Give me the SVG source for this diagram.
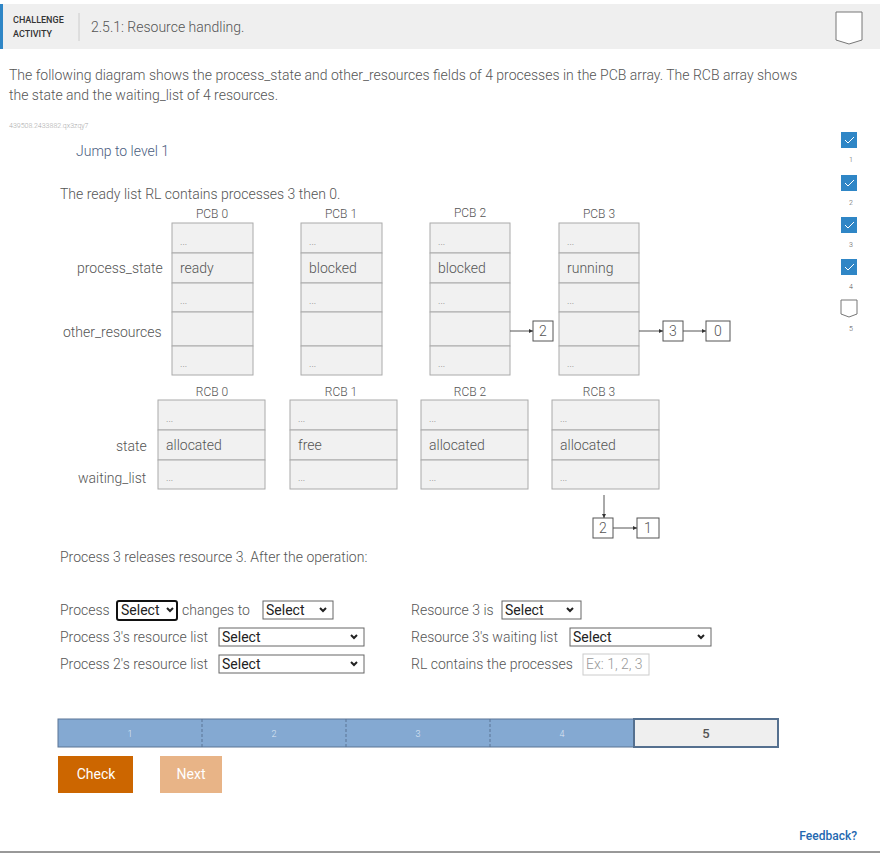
<svg xmlns="http://www.w3.org/2000/svg" width="880" height="854" viewBox="0 0 880 854">
<defs>
<style>
text{font-family:Roboto,"Liberation Sans",sans-serif;font-weight:300;fill:#555}
.c{fill:#f1f1f1;stroke:#aaa;stroke-width:1}
.d{font-size:10px;fill:#888}
.v{font-size:14px}
.l{font-size:14px}
.h{font-size:12px;text-anchor:middle}
.n{fill:#fff;stroke:#555;stroke-width:1}
.ln{stroke:#555;stroke-width:1;fill:none}
.sel{fill:#fff;stroke:#666;stroke-width:1}
.cb{fill:#2f86c6}
</style>
<marker id="a" markerWidth="4" markerHeight="4" refX="4" refY="2" orient="auto"><path d="M0,0L4,2L0,4z" fill="#333"/></marker>
</defs>
<rect width="880" height="854" fill="#fff"/>
<g id="header">
<rect x="0" y="4" width="880" height="45" fill="#efefef"/>
<rect x="0" y="4" width="3" height="45" fill="#2f86c6"/>
<text x="13" y="23" style="font-size:9px;font-weight:500;fill:#333">CHALLENGE</text>
<text x="13" y="37" style="font-size:9px;font-weight:500;fill:#333">ACTIVITY</text>
<line x1="79" y1="13" x2="79" y2="41" stroke="#ccc"/>
<text x="91" y="32" style="font-size:14px">2.5.1: Resource handling.</text>
<path d="M836,12H862V40L849,44L836,40Z" fill="#fff" stroke="#777"/>
</g>
<text x="9" y="80" style="font-size:14px">The following diagram shows the process_state and other_resources fields of 4 processes in the PCB array. The RCB array shows</text>
<text x="9" y="100" style="font-size:14px">the state and the waiting_list of 4 resources.</text>
<text x="9" y="128" style="font-size:7px;fill:#aaa">439508.2433882.qx3zqy7</text>
<text x="76" y="156" style="font-size:14px;fill:#4a5d80">Jump to level 1</text>
<g id="levels">
<rect class="cb" x="841" y="132" width="16" height="16"/><path d="M845,140l3,3l6,-6" stroke="#fff" fill="none"/><text x="849" y="162" style="font-size:7px">1</text>
<rect class="cb" x="841" y="175" width="16" height="16"/><path d="M845,183l3,3l6,-6" stroke="#fff" fill="none"/><text x="849" y="205" style="font-size:7px">2</text>
<rect class="cb" x="841" y="217" width="16" height="16"/><path d="M845,225l3,3l6,-6" stroke="#fff" fill="none"/><text x="849" y="247" style="font-size:7px">3</text>
<rect class="cb" x="841" y="259" width="16" height="16"/><path d="M845,267l3,3l6,-6" stroke="#fff" fill="none"/><text x="849" y="289" style="font-size:7px">4</text>
<path d="M841,300H857V314L849,317L841,314Z" fill="#fff" stroke="#777"/><text x="849" y="331" style="font-size:7px">5</text>
</g>
<text x="60" y="199" class="l">The ready list RL contains processes 3 then 0.</text>
<text x="77" y="273" class="l">process_state</text>
<text x="63" y="337" class="l">other_resources</text>
<text x="116" y="451" class="l">state</text>
<text x="78" y="483" class="l">waiting_list</text>
<g id="pcb0"><text x="212" y="218" class="h">PCB 0</text>
<rect class="c" x="172" y="223" width="81" height="30"/><rect class="c" x="172" y="253" width="81" height="30"/><rect class="c" x="172" y="283" width="81" height="29"/><rect class="c" x="172" y="312" width="81" height="34"/><rect class="c" x="172" y="346" width="81" height="29"/>
<text x="180" y="245" class="d">...</text><text x="180" y="273" class="v">ready</text><text x="180" y="304" class="d">...</text><text x="180" y="367" class="d">...</text></g>
<g id="pcb1"><text x="341" y="218" class="h">PCB 1</text>
<rect class="c" x="301" y="223" width="81" height="30"/><rect class="c" x="301" y="253" width="81" height="30"/><rect class="c" x="301" y="283" width="81" height="29"/><rect class="c" x="301" y="312" width="81" height="34"/><rect class="c" x="301" y="346" width="81" height="29"/>
<text x="309" y="245" class="d">...</text><text x="309" y="273" class="v">blocked</text><text x="309" y="304" class="d">...</text><text x="309" y="367" class="d">...</text></g>
<g id="pcb2"><text x="470" y="217" class="h">PCB 2</text>
<rect class="c" x="430" y="223" width="80" height="30"/><rect class="c" x="430" y="253" width="80" height="30"/><rect class="c" x="430" y="283" width="80" height="29"/><rect class="c" x="430" y="312" width="80" height="34"/><rect class="c" x="430" y="346" width="80" height="29"/>
<text x="438" y="245" class="d">...</text><text x="438" y="273" class="v">blocked</text><text x="438" y="304" class="d">...</text><text x="438" y="367" class="d">...</text></g>
<g id="pcb3"><text x="599" y="218" class="h">PCB 3</text>
<rect class="c" x="559" y="223" width="80" height="30"/><rect class="c" x="559" y="253" width="80" height="30"/><rect class="c" x="559" y="283" width="80" height="29"/><rect class="c" x="559" y="312" width="80" height="34"/><rect class="c" x="559" y="346" width="80" height="29"/>
<text x="567" y="245" class="d">...</text><text x="567" y="273" class="v">running</text><text x="567" y="304" class="d">...</text><text x="567" y="367" class="d">...</text></g>
<g id="rcb0"><text x="212" y="396" class="h">RCB 0</text>
<rect class="c" x="158" y="400" width="107" height="30"/><rect class="c" x="158" y="430" width="107" height="30"/><rect class="c" x="158" y="460" width="107" height="29"/>
<text x="166" y="422" class="d">...</text><text x="166" y="450" class="v">allocated</text><text x="166" y="481" class="d">...</text></g>
<g id="rcb1"><text x="341" y="396" class="h">RCB 1</text>
<rect class="c" x="290" y="400" width="107" height="30"/><rect class="c" x="290" y="430" width="107" height="30"/><rect class="c" x="290" y="460" width="107" height="29"/>
<text x="298" y="422" class="d">...</text><text x="298" y="450" class="v">free</text><text x="298" y="481" class="d">...</text></g>
<g id="rcb2"><text x="470" y="396" class="h">RCB 2</text>
<rect class="c" x="421" y="400" width="107" height="30"/><rect class="c" x="421" y="430" width="107" height="30"/><rect class="c" x="421" y="460" width="107" height="29"/>
<text x="429" y="422" class="d">...</text><text x="429" y="450" class="v">allocated</text><text x="429" y="481" class="d">...</text></g>
<g id="rcb3"><text x="599" y="396" class="h">RCB 3</text>
<rect class="c" x="552" y="400" width="107" height="30"/><rect class="c" x="552" y="430" width="107" height="30"/><rect class="c" x="552" y="460" width="107" height="29"/>
<text x="560" y="422" class="d">...</text><text x="560" y="450" class="v">allocated</text><text x="560" y="481" class="d">...</text></g>
<g id="listnodes">
<rect class="n" x="533" y="321" width="20" height="20"/><text x="543" y="336" class="h" style="font-size:14px">2</text>
<rect class="n" x="663" y="321" width="20" height="20"/><text x="673" y="336" class="h" style="font-size:14px">3</text>
<rect class="n" x="706" y="321" width="24" height="20"/><text x="718" y="336" class="h" style="font-size:14px">0</text>
<rect class="n" x="593" y="518" width="20" height="20"/><text x="603" y="533" class="h" style="font-size:14px">2</text>
<rect class="n" x="637" y="518" width="22" height="20"/><text x="648" y="533" class="h" style="font-size:14px">1</text>
</g>
<g id="connectors">
<line class="ln" x1="510" y1="331" x2="533" y2="331" marker-end="url(#a)"/>
<line class="ln" x1="639" y1="331" x2="663" y2="331" marker-end="url(#a)"/>
<line class="ln" x1="683" y1="331" x2="706" y2="331" marker-end="url(#a)"/>
<line class="ln" x1="604" y1="495" x2="604" y2="518" marker-end="url(#a)"/>
<line class="ln" x1="613" y1="528" x2="637" y2="528" marker-end="url(#a)"/>
</g>
<text x="60" y="562" class="l">Process 3 releases resource 3. After the operation:</text>
<g id="form">
<text x="60" y="615" class="l">Process</text>
<rect x="117" y="601" width="60" height="19" rx="2" fill="#fff" stroke="#111" stroke-width="2"/><text x="121" y="615" class="l" style="fill:#222;font-weight:400">Select</text><path d="M167,608l3,3l3,-3" stroke="#222" stroke-width="2" fill="none"/>
<text x="182" y="615" class="l">changes to</text>
<rect class="sel" x="263" y="601" width="70" height="18"/><text x="266" y="615" class="l" style="fill:#222;font-weight:400">Select</text><path d="M320,608l3,3l3,-3" stroke="#222" stroke-width="2" fill="none"/>
<text x="60" y="642" class="l">Process 3's resource list</text>
<rect class="sel" x="219" y="628" width="145" height="18"/><text x="222" y="642" class="l" style="fill:#222;font-weight:400">Select</text><path d="M351,635l3,3l3,-3" stroke="#222" stroke-width="2" fill="none"/>
<text x="60" y="669" class="l">Process 2's resource list</text>
<rect class="sel" x="219" y="655" width="145" height="18"/><text x="222" y="669" class="l" style="fill:#222;font-weight:400">Select</text><path d="M351,662l3,3l3,-3" stroke="#222" stroke-width="2" fill="none"/>
<text x="411" y="615" class="l">Resource 3 is</text>
<rect class="sel" x="502" y="601" width="79" height="18"/><text x="505" y="615" class="l" style="fill:#222;font-weight:400">Select</text><path d="M567,608l3,3l3,-3" stroke="#222" stroke-width="2" fill="none"/>
<text x="411" y="642" class="l">Resource 3's waiting list</text>
<rect class="sel" x="570" y="628" width="141" height="18"/><text x="573" y="642" class="l" style="fill:#222;font-weight:400">Select</text><path d="M698,635l3,3l3,-3" stroke="#222" stroke-width="2" fill="none"/>
<text x="411" y="669" class="l">RL contains the processes</text>
<rect x="583" y="654" width="66" height="21" fill="#fff" stroke="#ccc"/><text x="586" y="669" class="l" style="fill:#999">Ex: 1, 2, 3</text>
</g>
<g id="progress">
<rect x="58" y="719" width="576" height="28" fill="#84a9d2" stroke="#5a7595"/>
<line x1="202" y1="719" x2="202" y2="747" stroke="#5a7595" stroke-dasharray="3,2"/>
<line x1="346" y1="719" x2="346" y2="747" stroke="#5a7595" stroke-dasharray="3,2"/>
<line x1="490" y1="719" x2="490" y2="747" stroke="#5a7595" stroke-dasharray="3,2"/>
<text x="130" y="737" class="h" style="font-size:9px;fill:#dde7f2">1</text>
<text x="274" y="737" class="h" style="font-size:9px;fill:#dde7f2">2</text>
<text x="418" y="737" class="h" style="font-size:9px;fill:#dde7f2">3</text>
<text x="562" y="737" class="h" style="font-size:9px;fill:#dde7f2">4</text>
<rect x="634" y="719" width="144" height="28" fill="#efefef" stroke="#55708f" stroke-width="2"/>
<text x="706" y="738" class="h" style="font-size:13px;font-weight:500">5</text>
</g>
<g id="buttons">
<rect x="58" y="756" width="75" height="37" fill="#cc6600"/><text x="96" y="779" class="h" style="font-size:14px;fill:#fff;font-weight:400">Check</text>
<rect x="160" y="756" width="62" height="37" fill="#e8b487"/><text x="191" y="779" class="h" style="font-size:14px;fill:#fff;font-weight:400">Next</text>
</g>
<text x="857" y="840" style="font-size:12px;font-weight:500;fill:#2468b0;text-anchor:end">Feedback?</text>
<line x1="0" y1="852" x2="880" y2="852" stroke="#333"/>
</svg>
